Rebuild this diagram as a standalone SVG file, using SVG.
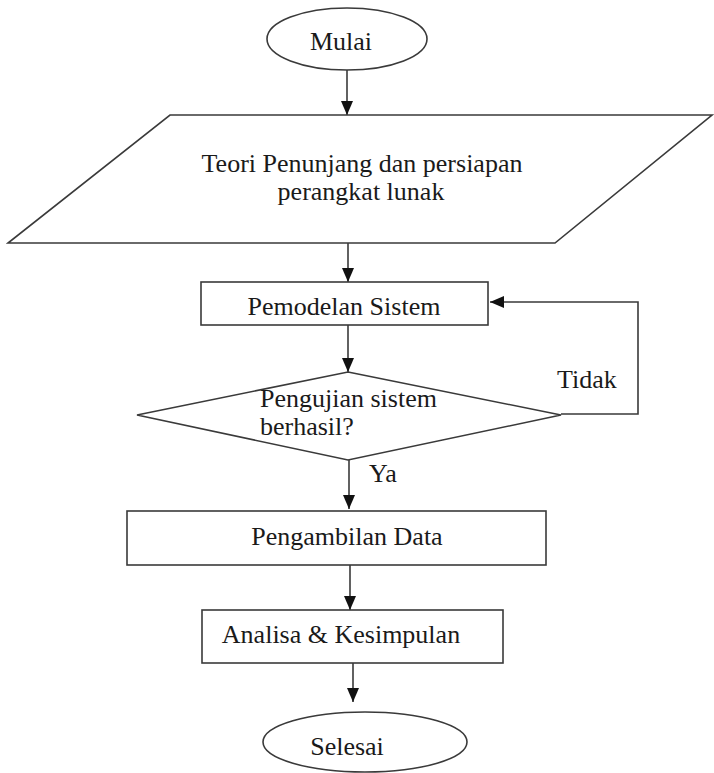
<svg xmlns="http://www.w3.org/2000/svg" width="714" height="773" viewBox="0 0 714 773">
  <style>
    .shape { fill: #ffffff; stroke: #3a3a3a; stroke-width: 1.6; }
    .edge { fill: none; stroke: #3a3a3a; stroke-width: 1.6; }
    .label { font-size: 26px; fill: #1a1a1a; }
    .mid { text-anchor: middle; }
  </style>
  <defs>
    <marker id="arrow" viewBox="0 0 14 12" refX="14" refY="6" markerWidth="14" markerHeight="12" markerUnits="userSpaceOnUse" orient="auto">
      <path d="M0,0 L14,6 L0,12 z" fill="#111111"/>
    </marker>
  </defs>
  <rect x="0" y="0" width="714" height="773" fill="#ffffff"/>

  <g font-family="'Liberation Serif', 'DejaVu Serif', serif">
  <g id="connectors">
    <line class="edge" x1="347" y1="70" x2="347" y2="115" marker-end="url(#arrow)"/>
    <line class="edge" x1="348" y1="243" x2="348" y2="282" marker-end="url(#arrow)"/>
    <line class="edge" x1="348" y1="325" x2="348" y2="372" marker-end="url(#arrow)"/>
    <line class="edge" x1="349" y1="460" x2="349" y2="509" marker-end="url(#arrow)"/>
    <line class="edge" x1="350" y1="565" x2="350" y2="610" marker-end="url(#arrow)"/>
    <line class="edge" x1="353" y1="663" x2="353" y2="702" marker-end="url(#arrow)"/>
    <path class="edge" d="M561,414 H638 V302 H490" marker-end="url(#arrow)"/>
    <text class="label" x="557" y="388">Tidak</text>
    <text class="label" x="369" y="482">Ya</text>
  </g>

  <g id="mulai">
    <ellipse class="shape" cx="347" cy="39" rx="80" ry="31"/>
    <text class="label mid" x="341" y="50">Mulai</text>
  </g>

  <g id="teori">
    <polygon class="shape" points="170,115 712,115 555,243 8,243"/>
    <text class="label mid" x="362" y="172">Teori Penunjang dan persiapan</text>
    <text class="label mid" x="361" y="200">perangkat lunak</text>
  </g>

  <g id="pemodelan">
    <rect class="shape" x="201" y="282" width="287" height="43"/>
    <text class="label mid" x="344" y="315">Pemodelan Sistem</text>
  </g>

  <g id="pengujian">
    <polygon class="shape" points="348,372 561,415 348,460 137,415"/>
    <text class="label" x="260" y="407">Pengujian sistem</text>
    <text class="label" x="260" y="435">berhasil?</text>
  </g>

  <g id="pengambilan">
    <rect class="shape" x="127" y="511" width="419" height="54"/>
    <text class="label mid" x="347" y="545">Pengambilan Data</text>
  </g>

  <g id="analisa">
    <rect class="shape" x="202" y="610" width="301" height="53"/>
    <text class="label mid" x="341" y="643">Analisa &amp; Kesimpulan</text>
  </g>

  <g id="selesai">
    <ellipse class="shape" cx="365" cy="742" rx="102" ry="30"/>
    <text class="label mid" x="347" y="755">Selesai</text>
  </g>
  </g>
</svg>
